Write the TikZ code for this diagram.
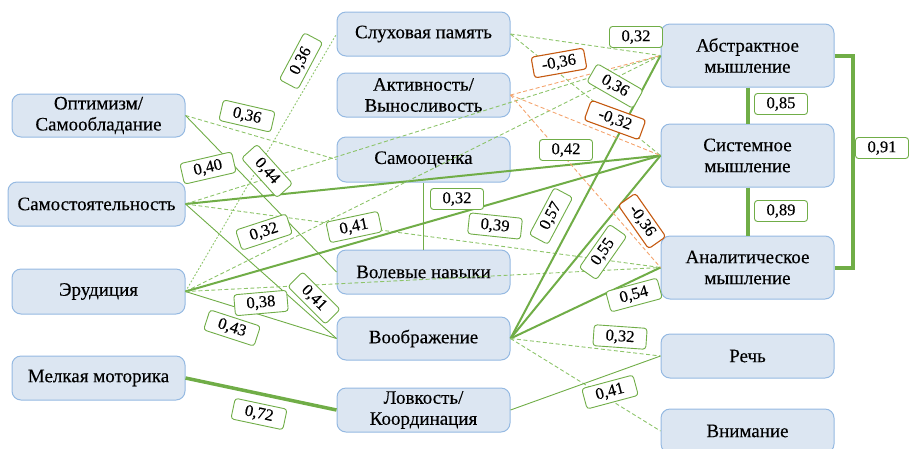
\documentclass[tikz,border=0pt]{standalone}
\usepackage{fontspec}
\setmainfont{Liberation Serif}
\newfontfamily\tnrfont[FakeBold=0.3]{Liberation Serif}
\definecolor{boxfill}{HTML}{DCE6F2}
\definecolor{boxline}{HTML}{95B9E2}
\definecolor{gr}{HTML}{70AD47}
\definecolor{lgr}{HTML}{8DC46A}
\definecolor{org}{HTML}{F4A46E}
\definecolor{dorg}{HTML}{C55A11}
\tikzset{
 bx/.style={draw=boxline, fill=boxfill, line width=1pt, rounded corners=9pt, minimum width=173pt, align=center, inner sep=0pt, text=black, font=\tnrfont\fontsize{19}{21}\selectfont},
 lbl/.style={draw=gr, fill=white, line width=0.9pt, rounded corners=3pt, minimum width=53pt, minimum height=21pt, inner sep=0pt, text=black, font=\tnrfont\fontsize{16.5}{18}\selectfont},
 nlbl/.style={lbl, draw=dorg, line width=1.1pt},
 lnthin/.style={draw=gr, line width=0.9pt},
 lnmed/.style={draw=gr, line width=2pt},
 lnbig/.style={draw=gr, line width=4pt},
 lndash/.style={draw=lgr, line width=0.9pt, dash pattern=on 4pt off 2.5pt},
 lndot/.style={draw=lgr, line width=0.9pt, dash pattern=on 1.8pt off 1.8pt},
 lnodash/.style={draw=org, line width=0.9pt, dash pattern=on 4pt off 2.5pt},
}
\begin{document}
\begin{tikzpicture}[x=1pt,y=-1pt]
\useasboundingbox (0,0) rectangle (909,448);
% left column
\node[bx, minimum height=43pt] (opt) at (98.5,115.5) {Оптимизм/\\Самообладание};
\node[bx, minimum height=44pt, minimum width=177pt] (samost) at (96.5,204) {Самостоятельность};
\node[bx, minimum height=45pt] (erud) at (98.5,291.5) {Эрудиция};
\node[bx, minimum height=44pt] (melk) at (98.5,378) {Мелкая моторика};
% middle column
\node[bx, minimum height=44pt] (sluh) at (423.5,34) {Слуховая память};
\node[bx, minimum height=44pt] (aktiv) at (423.5,95) {Активность/\\Выносливость};
\node[bx, minimum height=45pt] (samooc) at (423.5,159.5) {Самооценка};
\node[bx, minimum height=44pt] (volev) at (423.5,272) {Волевые навыки};
\node[bx, minimum height=43pt] (voobr) at (423.5,338.5) {Воображение};
\node[bx, minimum height=44pt] (lovk) at (423.5,410) {Ловкость/\\Координация};
% right column
\node[bx, minimum height=63pt] (abstr) at (747.5,55.5) {Абстрактное\\мышление};
\node[bx, minimum height=63pt] (sist) at (747.5,155.5) {Системное\\мышление};
\node[bx, minimum height=63pt] (anal) at (747.5,267.5) {Аналитическое\\мышление};
\node[bx, minimum height=44pt] (rech) at (747.5,356) {Речь};
\node[bx, minimum height=44pt] (vnim) at (747.5,431) {Внимание};
% connectors
\draw[lndash] (opt.east) -- (samooc.west);
\draw[lnthin] (opt.east) -- (volev.west);
\draw[lndash] (samost.east) -- (abstr.west);
\draw[lnmed] (samost.east) -- (sist.west);
\draw[lndash] (samost.east) -- (anal.west);
\draw[lnthin] (samost.east) -- (voobr.west);
\draw[lndot] (erud.east) -- (sluh.west);
\draw[lndash] (erud.east) -- (abstr.west);
\draw[lnmed] (erud.east) -- (sist.west);
\draw[lndash] (erud.east) -- (anal.west);
\draw[lnthin] (erud.east) -- (voobr.west);
\draw[lnbig, line width=3.5pt] (melk.east) -- (lovk.west);
\draw[lnthin] (samooc.south) -- (volev.north);
\draw[lnmed] (voobr.east) -- (abstr.west);
\draw[lnmed] (voobr.east) -- (sist.west);
\draw[lnmed] (voobr.east) -- (anal.west);
\draw[lndash] (voobr.east) -- (rech.west);
\draw[lndash] (voobr.east) -- (vnim.west);
\draw[lnthin] (lovk.east) -- (rech.west);
\draw[lndash] (sluh.east) -- (abstr.west);
\draw[lndash] (sluh.east) -- (sist.west);
\draw[lnodash] (aktiv.east) -- (abstr.west);
\draw[lnodash] (aktiv.east) -- (sist.west);
\draw[lnodash] (aktiv.east) -- (anal.west);
\draw[lnbig] (abstr.south) -- (sist.north);
\draw[lnbig] (sist.south) -- (anal.north);
\draw[lnbig] (abstr.east) -- ++(18,0) |- (anal.east);
% labels
\node[lbl, rotate=62] (l1) at (301,61) {0,36};
\node[lbl, rotate=-13] (l2) at (247,116) {0,36};
\node[lbl, rotate=13] (l3) at (208,168) {0,40};
\node[lbl, rotate=-48] (l4) at (267,171) {0,44};
\node[lbl, rotate=18] (l5) at (264,232) {0,32};
\node[lbl, rotate=12] (l6) at (354,227) {0,41};
\node[lbl, rotate=5] (l7) at (261,303) {0,38};
\node[lbl, rotate=-45] (l8) at (314,298) {0,41};
\node[lbl, rotate=-18] (l9) at (232,328) {0,43};
\node[lbl, rotate=-12] (l10) at (259,414) {0,72};
\node[lbl] (l11) at (566,150) {0,42};
\node[lbl] (l12) at (457,199) {0,32};
\node[lbl, rotate=-6] (l13) at (495,226) {0,39};
\node[lbl, rotate=62] (l14) at (551,216) {0,57};
\node[lbl, rotate=55] (l15) at (603,252) {0,55};
\node[lbl, rotate=15] (l16) at (634,295) {0,54};
\node[lbl, rotate=-4] (l17) at (620,337) {0,32};
\node[lbl, rotate=15] (l18) at (610,392) {0,41};
\node[nlbl, rotate=10] (l19) at (559,63) {-0,36};
\node[lbl, rotate=-30] (l20) at (615,86) {0,36};
\node[nlbl, rotate=-20, minimum width=58pt] (l21) at (615,120) {-0,32};
\node[nlbl, rotate=-55] (l22) at (642,221) {-0,36};
\node[lbl] (l23) at (636,37) {0,32};
\node[lbl] (l24) at (781,104) {0,85};
\node[lbl] (l25) at (781,211) {0,89};
\node[lbl] (l26) at (882,148) {0,91};
\end{tikzpicture}
\end{document}
